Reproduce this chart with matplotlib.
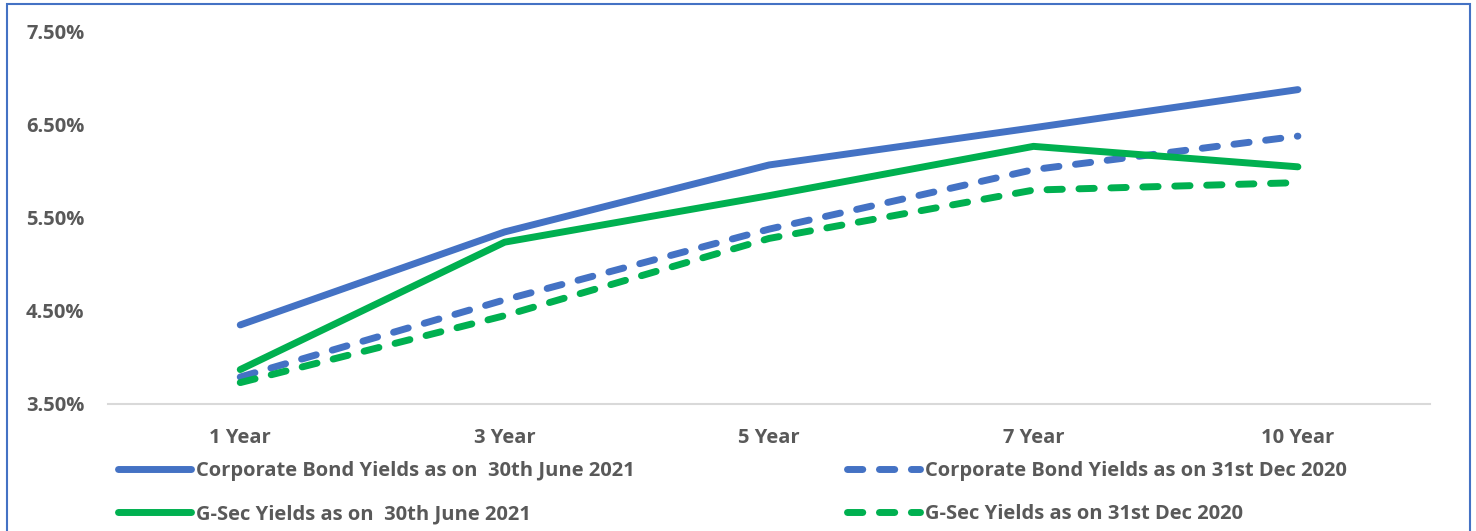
import matplotlib
matplotlib.use("Agg")
import matplotlib.pyplot as plt
from matplotlib.lines import Line2D
from matplotlib.patches import Rectangle
from matplotlib.ticker import FuncFormatter

tenors = ["1 Year", "3 Year", "5 Year", "7 Year", "10 Year"]
corp_jun21 = [4.35, 5.35, 6.07, 6.47, 6.88]
corp_dec20 = [3.79, 4.62, 5.38, 6.02, 6.38]
gsec_jun21 = [3.87, 5.24, 5.74, 6.27, 6.05]
gsec_dec20 = [3.73, 4.45, 5.28, 5.80, 5.88]
yticks = [3.5, 4.5, 5.5, 6.5, 7.5]

blue = "#4472C4"
green = "#00B050"
grey = "#595959"

plt.rcParams['font.family'] = ['Open Sans', 'DejaVu Sans']
plt.rcParams['font.weight'] = 'bold'
fs = 14.5

fig = plt.figure(figsize=(14.76, 5.31), dpi=100)
ax = fig.add_axes([0.0732, 0.2392, 0.8957, 0.7006])

x = range(len(tenors))
lw = 5
dash = (2.2, 2.4)
ax.plot(x, corp_jun21, color=blue, lw=lw, solid_capstyle='round', solid_joinstyle='round')
ax.plot(x, corp_dec20, color=blue, lw=lw, dashes=dash, dash_capstyle='round')
ax.plot(x, gsec_jun21, color=green, lw=lw, solid_capstyle='round', solid_joinstyle='round')
ax.plot(x, gsec_dec20, color=green, lw=lw, dashes=dash, dash_capstyle='round')

ax.set_xlim(-0.5, len(tenors) - 0.5)
ax.set_ylim(3.5, 7.5)
ax.set_xticks(list(x))
ax.set_xticklabels(tenors)
ax.set_yticks(yticks)
ax.yaxis.set_major_formatter(FuncFormatter(lambda v, p: f"{v:.2f}%"))
ax.tick_params(axis='both', length=0, labelsize=fs, labelcolor=grey)
ax.tick_params(axis='y', pad=17)
ax.tick_params(axis='x', pad=17)
for lab in ax.get_xticklabels() + ax.get_yticklabels():
    lab.set_fontweight('bold')

for s in ['top', 'right', 'left']:
    ax.spines[s].set_visible(False)
ax.spines['bottom'].set_color("#D9D9D9")
ax.spines['bottom'].set_linewidth(1.5)
for ln in ax.lines:
    ln.set_clip_on(False)

def handle(c, dashed):
    if dashed:
        return Line2D([], [], color=c, lw=lw, dashes=dash, dash_capstyle='round')
    return Line2D([], [], color=c, lw=lw, solid_capstyle='round')

leg_kw = dict(frameon=False, handlelength=3.6, handletextpad=0.25,
              labelspacing=1.17, borderaxespad=0, borderpad=0, labelcolor=grey,
              prop={'weight': 'bold', 'size': fs})
leg1 = fig.legend([handle(blue, False), handle(green, False)],
                  ["Corporate Bond Yields as on  30th June 2021", "G-Sec Yields as on  30th June 2021"],
                  loc='upper left', bbox_to_anchor=(0.080, 0.132), **leg_kw)
leg2 = fig.legend([handle(blue, True), handle(green, True)],
                  ["Corporate Bond Yields as on 31st Dec 2020", "G-Sec Yields as on 31st Dec 2020"],
                  loc='upper left', bbox_to_anchor=(0.574, 0.132), **leg_kw)

fig.patches.append(Rectangle((7 / 1476, -0.05), 1463 / 1476, 1.05 - 4 / 531,
                             transform=fig.transFigure, fill=False,
                             edgecolor=blue, lw=1.5))

fig.savefig("out.png", dpi=100)
